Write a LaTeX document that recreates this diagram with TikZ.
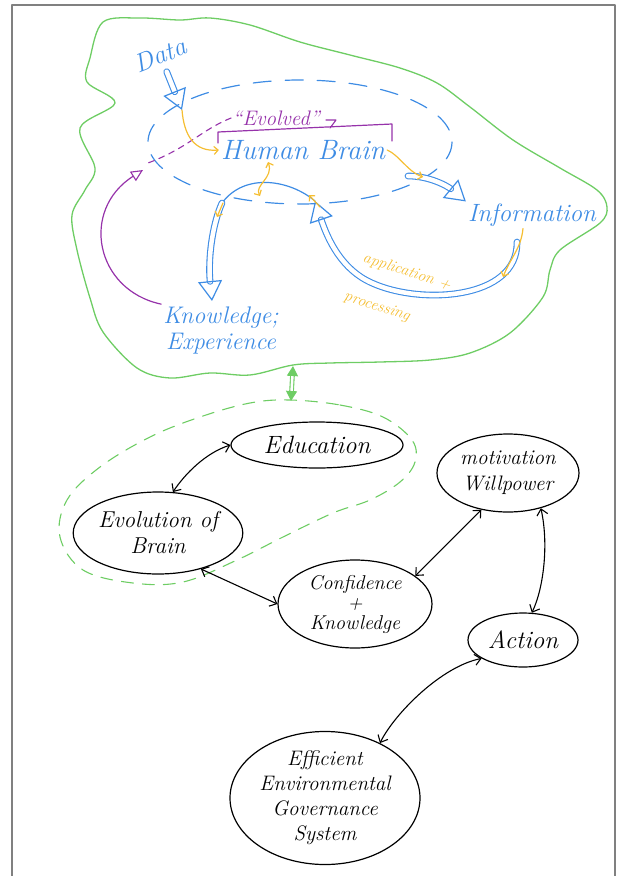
\documentclass[tikz,border=0pt]{standalone}
\usetikzlibrary{arrows.meta,shapes.geometric,calc}
\definecolor{hblue}{RGB}{62,140,228}
\definecolor{hpurple}{RGB}{150,50,170}
\definecolor{hyellow}{RGB}{245,190,50}
\definecolor{hgreen}{RGB}{110,205,100}
\definecolor{hgray}{RGB}{128,128,128}
\newcommand\hfs[2]{\fontsize{#1}{#2}\selectfont\itshape}
\tikzset{
  bluetext/.style={text=hblue, inner sep=2pt, align=center},
  ell/.style={ellipse, draw=black, line width=1.2pt, inner sep=0pt, align=center},
  barr/.style={black, line width=1.1pt, {Straight Barb[length=6pt,width=11pt]}-{Straight Barb[length=6pt,width=11pt]}},
  bdbl/.style={hblue, line width=1.1pt, double=white, double distance=4.5pt, -{Triangle[open, length=20pt, width=24pt, line width=1.2pt]}},
  yarr/.style={hyellow, line width=1.2pt, -{Straight Barb[length=4pt,width=8pt]}},
  yarr2/.style={hyellow, line width=1.2pt, {Straight Barb[length=4pt,width=8pt]}-{Straight Barb[length=4pt,width=8pt]}},
}
\begin{document}
\begin{tikzpicture}[x=1pt,y=-1pt, line cap=round, line join=round]
\useasboundingbox (0,0) rectangle (617,876);
\draw[hgray, line width=2.5pt, line cap=butt] (12,876) -- (12,5) -- (615,5) -- (615,876);

% green cloud
\draw[hgreen, line width=1.3pt] plot[smooth cycle, tension=0.55] coordinates {
 (103,22) (140,18) (180,20) (210,18) (250,25) (300,42) (350,55) (400,68) (437,83)
 (470,107) (513,140) (560,168) (597,190) (607,207) (600,223) (560,250) (550,270)
 (543,297) (510,333) (470,353) (430,360) (380,362) (330,363) (293,365) (250,375)
 (210,373) (170,378) (137,368) (103,332) (90,298) (77,250) (72,215) (85,190)
 (95,168) (80,128) (115,103) (87,82) (90,58)};

% blue dashed ellipse
\draw[hblue, line width=1.2pt, dash pattern=on 18pt off 14pt] (300,142) ellipse [x radius=152, y radius=62];

% coordinates
\coordinate (dataend) at (182,110);
\coordinate (elleft) at (148,163);
\coordinate (arcend) at (143,170);
\coordinate (humpR) at (315,201);
\coordinate (humpL) at (222,203);
\coordinate (knend) at (212,301);
\coordinate (infoS) at (517,242);
\coordinate (ellR) at (408,176);
\coordinate (yb) at (423,177);
\coordinate (yinfo) at (503,277);
\coordinate (yhb) at (268,162);
\coordinate (cloudbot) at (293,366);
\coordinate (looptop) at (291,401);

% texts top
\node[bluetext, font=\hfs{26}{28}, rotate=22] (data) at (160,55) {Data};
\node[bluetext, font=\hfs{28}{32}] (hb) at (303,150) {Human Brain};
\node[text=hpurple, inner sep=1pt, font=\hfs{21}{22}] (evolved) at (276,118) {“Evolved”};
\node[bluetext, font=\hfs{25}{28}] (info) at (532,215) {Information};
\node[bluetext, font=\hfs{24}{26}] (kn) at (221,330) {Knowledge;\\Experience};
\node[text=hyellow, font=\hfs{16}{18}, rotate=-18] (app) at (407,272) {application +};
\node[text=hyellow, font=\hfs{16}{18}, rotate=-18] (proc) at (377,307) {processing};

% purple
\draw[hpurple, line width=1.2pt] (218,143) -- (218,132) -- (392,124) -- (392,141);
\draw[hpurple, line width=1.1pt] (326,120) -- (336,120) -- (330,128);
\draw[hpurple, line width=1.1pt, dash pattern=on 6pt off 5pt] (evolved.west) .. controls +(-30,12) and +(40,-15) .. (elleft);
\draw[hpurple, line width=1.2pt, -{Triangle[open,length=12pt,width=11pt,line width=1.1pt]}] (kn.north west) .. controls (95,290) and (80,210) .. (arcend);

% blue arrows
\draw[bdbl, shorten <=18pt] (data.center) -- (dataend);
\draw[hblue, line width=1.2pt] (humpR) .. controls (290,180) and (245,172) .. (humpL);
\draw[bdbl] (humpL) .. controls (212,225) and (208,260) .. (knend);
\draw[bdbl] (infoS) .. controls (518,300) and (420,305) .. (372,283) .. controls (342,270) and (328,240) .. (humpR);
\draw[bdbl] (ellR) .. controls +(22,0) and +(-18,-15) .. (info.north west);

% yellow arrows
\draw[yarr] (dataend) .. controls +(2,25) and +(-25,2) .. (hb.west);
\draw[yarr] (hb.east) .. controls +(12,5) and +(-15,-5) .. (yb);
\draw[yarr] ([xshift=-9pt]info.south) .. controls +(-2,20) and +(8,-20) .. (yinfo);
\draw[yarr2] (260,196) .. controls (254,185) and (274,178) .. (yhb);
\draw[yarr] (320,207) -- (309,195);
\draw[yarr] (223,203) -- (217,217);

% green double arrow
\draw[hgreen, line width=1.1pt, double=white, double distance=2.5pt, {Triangle[length=10pt,width=11pt]}-{Triangle[length=10pt,width=11pt]}] (cloudbot) -- (looptop);

% green dashed loop
\draw[hgreen, line width=1.1pt, dash pattern=on 12pt off 9pt] plot[smooth cycle, tension=0.6] coordinates {
 (290,400) (340,405) (383,417) (412,440) (415,462) (400,482) (370,500) (333,513)
 (283,537) (237,560) (183,582) (133,583) (83,570) (60,537) (67,500) (100,467)
 (150,437) (200,417) (250,403)};

% bottom nodes
\node[ell, minimum width=172pt, minimum height=46pt, font=\hfs{25}{28}] (edu) at (317,445) {Education};
\node[ell, minimum width=142pt, minimum height=78pt, font=\hfs{21}{26}] (mot) at (508,473) {motivation\\Willpower};
\node[ell, minimum width=160pt, minimum height=82pt, font=\hfs{23}{26}] (evo) at (158,533) {Evolution of\\Brain};
\node[ell, minimum width=154pt, minimum height=88pt, font=\hfs{20}{20}] (conf) at (355,604) {Confidence\\+\\Knowledge};
\node[ell, minimum width=110pt, minimum height=54pt, font=\hfs{25}{28}] (act) at (523,640) {Action};
\node[ell, minimum width=190pt, minimum height=124pt, font=\hfs{21}{25}] (eff) at (325,798) {Efficient\\Environmental\\Governance\\System};

% bottom arrows
\draw[barr] (edu.west) .. controls +(-25,8) and +(12,-18) .. (evo.70);
\draw[barr] (evo.-40) -- (conf.west);
\draw[barr] (conf.25) -- (mot.-126);
\draw[barr] (mot.-47) .. controls +(8,35) and +(12,-25) .. (act.72);
\draw[barr] (act.-156) .. controls +(-40,8) and +(15,-30) .. (eff.45);
\end{tikzpicture}
\end{document}
